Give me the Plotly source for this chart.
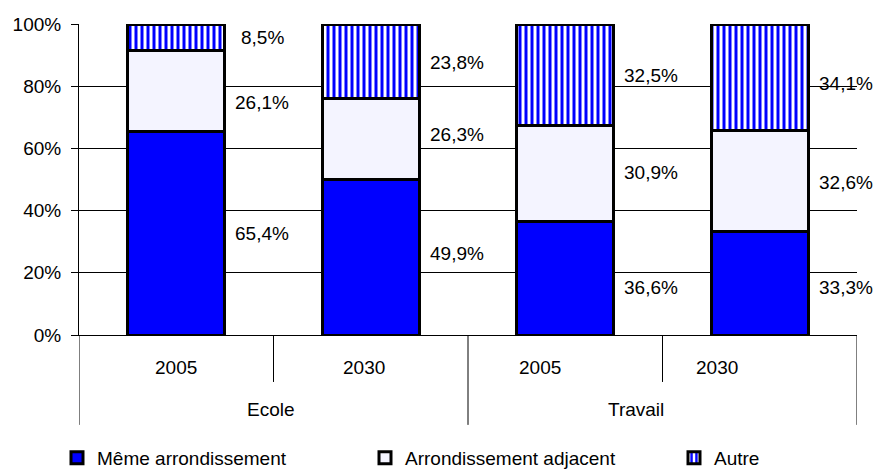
import plotly.graph_objects as go

# Trip destination shares by purpose and year
groups = ["Ecole", "Travail"]
bars = ["Ecole 2005", "Ecole 2030", "Travail 2005", "Travail 2030"]
years = ["2005", "2030", "2005", "2030"]
meme = [65.4, 49.9, 36.6, 33.3]
adjacent = [26.1, 26.3, 30.9, 32.6]
autre = [8.5, 23.8, 32.5, 34.1]

series_names = ["Même arrondissement", "Arrondissement adjacent", "Autre"]
y_ticks = [0, 20, 40, 60, 80, 100]
y_ticktext = ["0%", "20%", "40%", "60%", "80%", "100%"]

# small vertical nudges (px) for the value labels, per series then per bar
label_nudge = [
    [0, 4, -9, -4],
    [-11, 4, 1, -2],
    [0, -1, -1, -6],
]
# horizontal nudges (px) for the category labels under the axis
year_shift = [0, -7, -25, -43]
group_shift = [-3, -27]

FONT = "Liberation Sans, Arial, Helvetica, sans-serif"
BLUE = "#0000FF"
PALE = "#F4F4FF"
FS = 19

fig = go.Figure()
fig.add_bar(x=bars, y=meme, name=series_names[0], legend="legend",
            marker=dict(color=BLUE, line=dict(color="black", width=3)))
fig.add_bar(x=bars, y=adjacent, name=series_names[1], legend="legend2",
            marker=dict(color=PALE, line=dict(color="black", width=3)))
fig.add_bar(x=bars, y=autre, name=series_names[2], legend="legend3",
            marker=dict(color=BLUE, line=dict(color="black", width=3),
                        pattern=dict(shape="|", fgcolor=BLUE, bgcolor="white",
                                     size=6, solidity=0.5, fillmode="replace")))

# value labels to the right of each segment
stack = [meme, adjacent, autre]
for s, vals in enumerate(stack):
    for i, v in enumerate(vals):
        base = sum(series[i] for series in stack[:s])
        fig.add_annotation(
            x=i, y=base + v / 2, xref="x", yref="y",
            text=f"{v:.1f}%".replace(".", ","),
            showarrow=False, xshift=86, yshift=label_nudge[s][i],
            font=dict(family=FONT, size=FS, color="black"),
        )

# two-level category labels and separators under the axis
for i, yr in enumerate(years):
    fig.add_annotation(x=i, y=-0.103, xref="x", yref="paper", text=yr,
                       showarrow=False, xshift=year_shift[i], yanchor="middle",
                       font=dict(family=FONT, size=FS, color="black"))
for g, name in enumerate(groups):
    fig.add_annotation(x=2 * g + 0.5, y=-0.241, xref="x", yref="paper", text=name,
                       showarrow=False, xshift=group_shift[g], yanchor="middle",
                       font=dict(family=FONT, size=FS, color="black"))
for b in range(len(bars) + 1):
    bottom = -0.289 if b % 2 == 0 else -0.151
    fig.add_shape(type="line", xref="x", yref="paper", x0=b - 0.5, x1=b - 0.5,
                  y0=0, y1=bottom, line=dict(color="black", width=1))

legend_common = dict(orientation="h", y=-0.395, xanchor="left", yanchor="middle",
                     font=dict(family=FONT, size=FS, color="black"),
                     bgcolor="rgba(0,0,0,0)")
fig.update_layout(
    width=877, height=469,
    margin=dict(l=79, r=20, t=24, b=134, autoexpand=False),
    barmode="stack", bargap=0.5,
    plot_bgcolor="white", paper_bgcolor="white",
    font=dict(family=FONT, size=FS, color="black"),
    showlegend=True,
    legend=dict(x=(57 - 79) / 778, **legend_common),
    legend2=dict(x=(365 - 79) / 778, **legend_common),
    legend3=dict(x=(674 - 79) / 778, **legend_common),
)
fig.update_yaxes(range=[0, 100], tickvals=y_ticks, ticktext=y_ticktext,
                 showgrid=True, gridcolor="black", gridwidth=1,
                 showline=True, linecolor="black", linewidth=1,
                 ticks="outside", ticklen=7, tickcolor="black",
                 ticklabelstandoff=6,
                 zeroline=False, fixedrange=True)
fig.update_xaxes(type="category", range=[-0.5, 3.5], showticklabels=False,
                 showline=True, linecolor="black", linewidth=1, ticks="",
                 fixedrange=True)

fig.write_html("out.html")
